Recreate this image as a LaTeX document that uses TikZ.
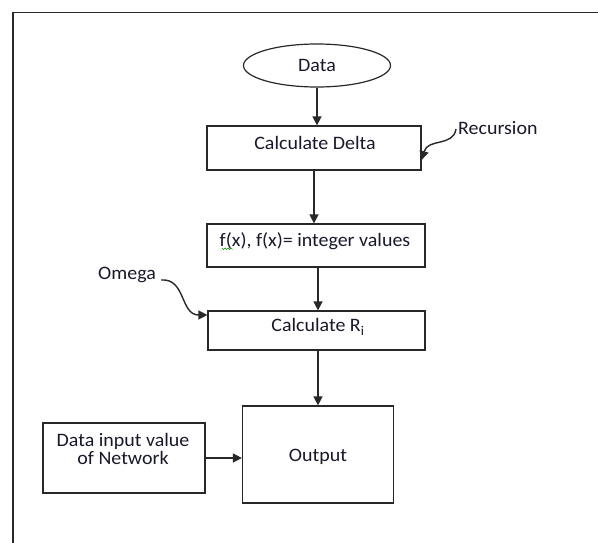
\documentclass[tikz,border=0pt]{standalone}
\usepackage{fontspec}
\setmainfont[FakeStretch=1.05]{Carlito}
\usetikzlibrary{arrows.meta,shapes.geometric}
\definecolor{txt}{RGB}{25,25,45}
\definecolor{ln}{RGB}{40,40,40}
\begin{document}
\begin{tikzpicture}[x=1pt,y=-1pt,
  box/.style={draw=ln, line width=1.2pt, rectangle, inner sep=0pt},
  lbl/.style={font=\fontsize{19}{18}\selectfont, text=txt, inner sep=0pt, align=center},
  arr/.style={draw=ln, line width=1.4pt, -{Triangle[length=9pt,width=9pt]}}]
\useasboundingbox (0,0) rectangle (598,543);
\fill[white] (0,0) rectangle (598,543);
\draw[ln, line width=1.4pt] (598,12.5) -- (13,12.5) -- (13,543);

% nodes
\node[draw=ln, line width=1.2pt, ellipse, minimum width=147pt, minimum height=43pt, inner sep=0pt, lbl] (data) at (317,65.5) {Data};
\node[box, minimum width=214pt, minimum height=44pt] (delta) at (314,148) {};
\node[lbl] (deltaT) at (315,143) {Calculate Delta};
\node[box, minimum width=218pt, minimum height=43pt] (fx) at (316,245.5) {};
\node[lbl] (fxT) at (315,241) {f(x), f(x)= integer values};
\node[box, minimum width=217pt, minimum height=39pt] (ri) at (316.5,330.5) {};
\node[lbl] (riT) at (318,327) {Calculate R\textsubscript{i}};
\node[box, minimum width=151pt, minimum height=97pt] (out) at (318,454.5) {};
\node[lbl] (outT) at (318,457) {Output};
\node[box, minimum width=162pt, minimum height=70pt] (inp) at (124,458) {};
\node[lbl] (inpT) at (123,449) {Data input value\\of Network};
\node[lbl, anchor=west] (rec) at (458,128) {Recursion};
\node[lbl] (om) at (127,275) {Omega};

% spelling squiggle under first f
\draw[green!55!black, line width=0.6pt] (222,248) -- (223.5,249.5) -- (225,248) -- (226.5,249.5) -- (228,248) -- (229.5,249.5) -- (231,248) -- (232.5,249.5);

% connectors
\draw[arr] (data.south) -- (data.south |- delta.north);
\draw[arr] (delta.south) -- (delta.south |- fx.north);
\draw[arr] ([xshift=2pt]fx.south) -- ([xshift=2pt]fx.south |- ri.north);
\draw[arr] (ri.south -| out.north) -- (out.north);
\draw[arr] (inp.east) -- (inp.east -| out.west);
\draw[arr] ([xshift=-2pt,yshift=-1pt]rec.west) .. controls (453,147) and (428,138) .. ([yshift=-12pt]delta.east);
\draw[arr] ([xshift=5pt,yshift=-5pt]om.east) .. controls (186,278) and (180,315) .. ([yshift=15.5pt]ri.west);
\end{tikzpicture}
\end{document}
